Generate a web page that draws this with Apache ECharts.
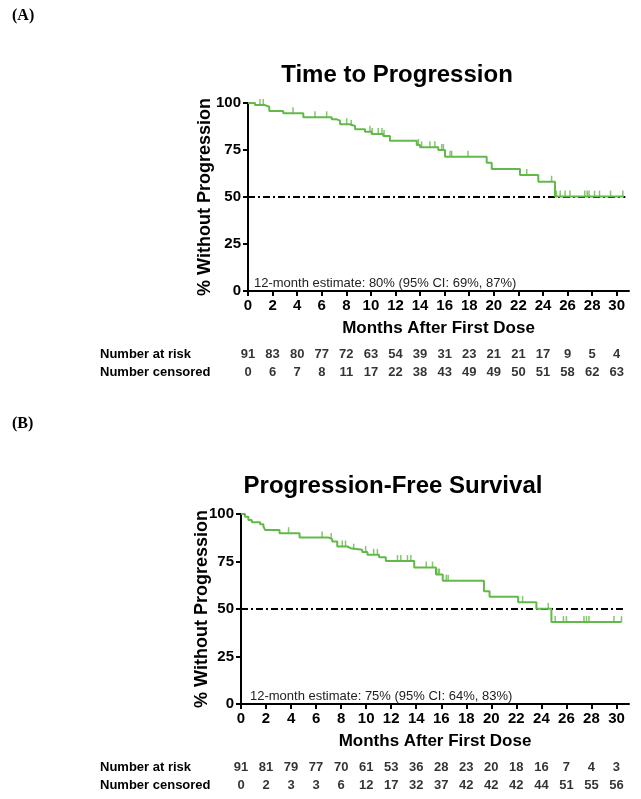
<!DOCTYPE html>
<html><head><meta charset="utf-8">
<script src="https://cdn.jsdelivr.net/npm/echarts@6/dist/echarts.min.js"></script>
<style>html,body{margin:0;padding:0;background:#fff}#c{width:641px;height:799px}</style>
</head><body><div id="c"></div>
<script>
const monthTicks = [0,2,4,6,8,10,12,14,16,18,20,22,24,26,28,30];
const rowLabels = ['Number at risk','Number censored'];

const ttpTimes = [0,0.57,1.38,1.73,2.87,4.5,6.81,7.22,7.49,8.3,8.71,9.52,10.06,11.0,11.55,13.73,14.0,15.48,16.03,19.42,19.83,22.13,23.62,24.98,30.6];
const ttpSurv  = [100,98.9,98.0,95.7,94.5,92.4,91.3,90.6,88.7,87.8,86.0,84.7,83.5,82.4,79.9,77.7,76.4,75.0,71.4,68.2,64.9,61.7,58.1,50.2,50.2];
const ttpCensor = [0.98,1.24,3.66,5.45,6.4,8.03,8.4,9.93,10.1,10.6,10.9,11.07,13.86,14.13,14.8,15.2,15.76,15.9,16.44,16.57,17.9,22.68,24.7,25.1,25.4,25.8,26.2,27.4,27.6,27.75,28.2,28.6,29.5,30.5];
const atRiskA   = [91,83,80,77,72,63,54,39,31,23,21,21,17,9,5,4];
const censoredA = [0,6,7,8,11,17,22,38,43,49,49,50,51,58,62,63];

const pfsTimes = [0,0.32,0.59,0.86,1.53,1.79,1.93,3.08,4.68,7.01,7.29,7.69,8.49,8.76,9.69,10.1,11.03,11.57,13.84,15.58,16.12,19.41,19.86,22.14,23.6,24.8,30.4];
const pfsSurv  = [100,98.6,96.9,95.7,94.6,93.4,91.6,89.9,87.6,86.8,85.5,82.9,82.0,81.2,80.0,78.5,77.3,75.2,71.8,68.1,64.9,59.3,56.4,53.6,50.1,43.1,43.1];
const pfsCensor = [3.8,6.48,7.2,8.09,8.35,9.0,9.96,10.6,10.9,12.5,12.77,13.3,13.57,14.8,15.3,15.75,15.85,16.4,16.55,22.5,24.55,25.1,25.76,26.0,27.4,27.6,27.8,29.8,30.4];
const atRiskB   = [91,81,79,77,70,61,53,36,28,23,20,18,16,7,4,3];
const censoredB = [0,2,3,3,6,12,17,32,37,42,42,42,44,51,55,56];

const refLevel = 50;
const refSpan = [0, 30.7];

const green = '#62b94a';
const FONT = '"Liberation Sans", Arial, sans-serif';

function survAt(times, surv, t){ let v = surv[0]; for (let i=0;i<times.length;i++){ if (times[i] <= t) v = surv[i]; } return v; }

const chart = echarts.init(document.getElementById('c'), null, {renderer:'canvas'});

function plotAxes(gi, nameGapY){
  return {
    x: {gridIndex: gi, type:'value', min:0, max:31,
      name:'Months After First Dose', nameLocation:'middle', nameGap:29, nameMoveOverlap:false,
      nameTextStyle:{fontFamily:FONT, fontWeight:'bold', fontSize:17, color:'#000'},
      axisLine:{lineStyle:{color:'#000', width:2}},
      axisTick:{show:true, length:5, lineStyle:{color:'#000', width:2}, customValues: monthTicks},
      axisLabel:{fontFamily:FONT, fontWeight:'bold', fontSize:15, color:'#000', margin:7, customValues: monthTicks},
      splitLine:{show:false}},
    y: {gridIndex: gi, type:'value', min:0, max:100, interval:25,
      name:'% Without Progression', nameLocation:'middle', nameGap:nameGapY, nameMoveOverlap:false,
      nameTextStyle:{fontFamily:FONT, fontWeight:'bold', fontSize:18, color:'#000'},
      axisLine:{show:true, lineStyle:{color:'#000', width:2}},
      axisTick:{show:true, length:5, lineStyle:{color:'#000', width:2}},
      axisLabel:{fontFamily:FONT, fontWeight:'bold', fontSize:15, color:'#000', margin:7},
      splitLine:{show:false}}
  };
}
function tableAxes(gi, margin){
  return {
    x: {gridIndex: gi, type:'value', min:0, max:31, show:false},
    y: {gridIndex: gi, type:'category', data: rowLabels, inverse:true,
      axisLine:{show:false}, axisTick:{show:false}, splitLine:{show:false},
      axisLabel:{align:'left', margin: margin, fontFamily:FONT, fontWeight:'bold', fontSize:13, color:'#000'}}
  };
}
const pA = plotAxes(0, 34), tA = tableAxes(1, 148), pB = plotAxes(2, 30), tB = tableAxes(3, 141);

function kmSeries(xi, times, surv, censor){
  return [
    {type:'line', xAxisIndex:xi, yAxisIndex:xi, data:[[refSpan[0],refLevel],[refSpan[1],refLevel]],
      symbol:'none', silent:true, z:2, lineStyle:{color:'#000', width:2, type:[7,3,2,3]}},
    {type:'line', xAxisIndex:xi, yAxisIndex:xi, step:'end', symbol:'none', z:3,
      data: times.map((t,i)=>[t, surv[i]]), lineStyle:{color:green, width:2}},
    {type:'scatter', xAxisIndex:xi, yAxisIndex:xi, z:3, symbol:'rect', symbolSize:[1.5,6], symbolOffset:[0,-3],
      itemStyle:{color:green}, data: censor.map(t=>[t, survAt(times, surv, t)])}
  ];
}
function tableSeries(xi, risk, cens){
  const data = [];
  monthTicks.forEach((m,i)=>{ data.push([m,0,risk[i]]); data.push([m,1,cens[i]]); });
  return {type:'scatter', xAxisIndex:xi, yAxisIndex:xi, symbolSize:1, itemStyle:{color:'rgba(0,0,0,0)'},
    data, label:{show:true, position:'inside', formatter:p=>String(p.value[2]),
      fontFamily:FONT, fontWeight:'bold', fontSize:13, color:'#000'}};
}

const option = {
  animation:false,
  backgroundColor:'#fff',
  grid:[
    {left:248, right:12, top:103, height:188},
    {left:248, right:12, top:345, height:36},
    {left:241, right:12, top:514, height:190},
    {left:241, right:12, top:758, height:36}
  ],
  xAxis:[pA.x, tA.x, pB.x, tB.x],
  yAxis:[pA.y, tA.y, pB.y, tB.y],
  series:[
    ...kmSeries(0, ttpTimes, ttpSurv, ttpCensor),
    tableSeries(1, atRiskA, censoredA),
    ...kmSeries(2, pfsTimes, pfsSurv, pfsCensor),
    tableSeries(3, atRiskB, censoredB)
  ],
  graphic:[
    {type:'text', x:12, y:16, style:{text:'(A)', font:'bold 16px "Liberation Serif", serif', fill:'#000', textAlign:'left', textVerticalAlign:'middle'}},
    {type:'text', x:12, y:424, style:{text:'(B)', font:'bold 16px "Liberation Serif", serif', fill:'#000', textAlign:'left', textVerticalAlign:'middle'}},
    {type:'text', x:397, y:75, style:{text:'Time to Progression', font:'bold 24px '+FONT, fill:'#000', textAlign:'center', textVerticalAlign:'middle'}},
    {type:'text', x:393, y:486, style:{text:'Progression-Free Survival', font:'bold 24px '+FONT, fill:'#000', textAlign:'center', textVerticalAlign:'middle'}},
    {type:'text', x:254, y:283, style:{text:'12-month estimate: 80% (95% CI: 69%, 87%)', font:'13px '+FONT, fill:'#222', textAlign:'left', textVerticalAlign:'middle'}},
    {type:'text', x:250, y:696, style:{text:'12-month estimate: 75% (95% CI: 64%, 83%)', font:'13px '+FONT, fill:'#222', textAlign:'left', textVerticalAlign:'middle'}}
  ]
};
chart.setOption(option);
</script></body></html>
